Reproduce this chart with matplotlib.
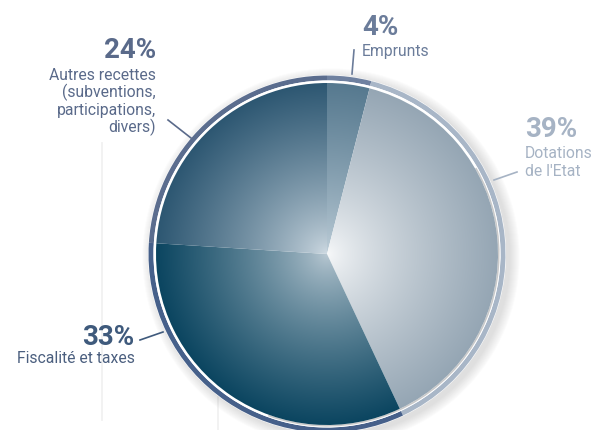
import numpy as np
import matplotlib
matplotlib.use("Agg")
import matplotlib.pyplot as plt
from matplotlib.colors import to_rgb
from matplotlib.patches import Circle, Wedge

# ---- data ----
labels = ["Emprunts", "Dotations de l'Etat", "Fiscalité et taxes",
          "Autres recettes (subventions, participations, divers)"]
values = [4, 39, 33, 24]
pct_labels = ["4%", "39%", "33%", "24%"]
desc_lines = [["Emprunts"], ["Dotations", "de l'Etat"], ["Fiscalité et taxes"],
              ["Autres recettes", "(subventions,", "participations,", "divers)"]]

# ---- styles ----
edge_cols = ["#56798f", "#95a6b4", "#0b4560", "#2d5772"]
center_cols = ["#c3d2dc", "#f9fafb", "#bccbd5", "#d2dde5"]
ring_cols = ["#6f81a0", "#a8b6c7", "#46608a", "#5b6d8e"]
text_cols = ["#6b7c9a", "#a6b3c4", "#3f5a7c", "#5a6a8a"]

plt.rcParams['font.family'] = ['Roboto', 'DejaVu Sans']

W, H = 596, 430
fig = plt.figure(figsize=(W / 100, H / 100), dpi=100)
ax = fig.add_axes([0, 0, 1, 1])
ax.set_xlim(0, W)
ax.set_ylim(0, H)
ax.axis('off')

cx, cy = 327, H - 254
R = 171
R_gap = 173.5
R_ring = 178.5

# faint background lines
ax.plot([102, 102], [H - 143, H - 420], color="#f1f1f1", lw=1.3, zorder=0)
ax.plot([218, 218], [H - 392, 0], color="#f1f1f1", lw=1.3, zorder=0)

# soft shadow
for k in range(10):
    ax.add_patch(Circle((cx + 4, cy - 3), R_ring + 1 + k, facecolor="#7a7a7a",
                        edgecolor="none", alpha=0.022, zorder=1))
ax.add_patch(Circle((cx, cy), R_ring + 0.5, facecolor="white", edgecolor="none", zorder=1.5))

# outer ring
ring_w, _ = ax.pie(values, radius=R_ring, center=(cx, cy), startangle=90, counterclock=False,
                   colors=ring_cols, wedgeprops=dict(width=R_ring - R_gap, linewidth=0),
                   frame=True)
for w in ring_w:
    w.set_zorder(2)
# gap ring
ax.add_patch(Wedge((cx, cy), R_gap, 0, 360, width=R_gap - R, facecolor="white",
                   edgecolor="none", zorder=2.2))
ax.add_patch(Wedge((cx, cy), R + 1.6, -110, 30, width=1.6, facecolor="#c4c4c4",
                   edgecolor="none", zorder=2.3, alpha=0.9))

# main pie (geometry) + radial gradient fill
wedges, _ = ax.pie(values, radius=R, center=(cx, cy), startangle=90, counterclock=False,
                   colors=["none"] * len(values), wedgeprops=dict(linewidth=0),
                   frame=True)
n = 500
xs = np.linspace(cx - R, cx + R, n)
ys = np.linspace(cy - R, cy + R, n)
X, Y = np.meshgrid(xs, ys)
rr = np.clip(np.hypot(X - cx, Y - cy) / R, 0, 1)
t = rr ** 0.75
for w, ce, cc in zip(wedges, edge_cols, center_cols):
    ce = np.array(to_rgb(ce)); cc = np.array(to_rgb(cc))
    img = cc + (ce - cc) * t[..., None]
    im = ax.imshow(img, extent=(cx - R, cx + R, cy - R, cy + R), origin="lower",
                   interpolation="bilinear", zorder=2.5)
    im.set_clip_path(w)
    w.set_zorder(2.6)
ax.set_xlim(0, W)
ax.set_ylim(0, H)
ax.set_aspect('equal')
ax.axis('off')

# ---- labels ----
def ty(y):
    return H - y

pct_fs = 20
txt_fs = 11.3
# Emprunts
i = 0
ax.text(362, ty(35), pct_labels[i], color=text_cols[i], fontsize=pct_fs, fontweight="bold",
        ha="left", va="baseline")
ax.text(362, ty(56), desc_lines[i][0], color=text_cols[i], fontsize=txt_fs, ha="left", va="baseline")
ax.plot([354, 352], [ty(50), ty(74)], color=text_cols[i], lw=1.2, zorder=5)
# Dotations
i = 1
ax.text(525, ty(137), pct_labels[i], color=text_cols[i], fontsize=pct_fs, fontweight="bold",
        ha="left", va="baseline")
for k, line in enumerate(desc_lines[i]):
    ax.text(525, ty(158 + 17.5 * k), line, color=text_cols[i], fontsize=txt_fs,
            ha="left", va="baseline")
ax.plot([517, 494], [ty(172), ty(180)], color=text_cols[i], lw=1.2, zorder=5)
# Fiscalite
i = 2
ax.text(134, ty(345), pct_labels[i], color=text_cols[i], fontsize=pct_fs, fontweight="bold",
        ha="right", va="baseline")
ax.text(135, ty(363), desc_lines[i][0], color="#4b5f7f", fontsize=txt_fs, ha="right", va="baseline")
ax.plot([140, 163], [ty(340), ty(332)], color=text_cols[i], lw=1.2, zorder=5)
# Autres
i = 3
ax.text(156, ty(58), pct_labels[i], color=text_cols[i], fontsize=pct_fs, fontweight="bold",
        ha="right", va="baseline")
for k, line in enumerate(desc_lines[i]):
    ax.text(156, ty(80 + 17.4 * k), line, color=text_cols[i], fontsize=txt_fs,
            ha="right", va="baseline")
ax.plot([168, 191], [ty(120), ty(138)], color=text_cols[i], lw=1.2, zorder=5)

fig.savefig("out.png", dpi=100, facecolor="white")
